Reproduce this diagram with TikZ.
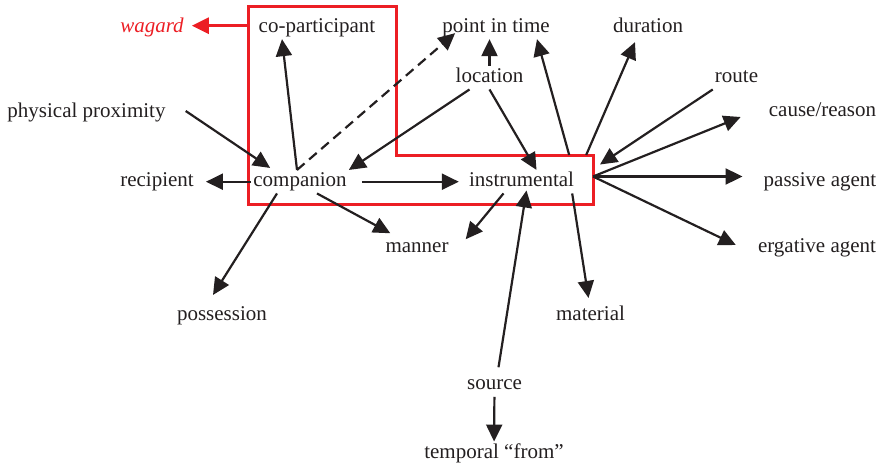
\documentclass[tikz,border=0pt]{standalone}
\usepackage{fontspec}
\setmainfont{Liberation Serif}
\usetikzlibrary{arrows.meta}

\definecolor{boxred}{RGB}{236,30,36}
\definecolor{ink}{RGB}{35,31,32}

\tikzset{
  lbl/.style={inner sep=2pt, text height=14.5pt, text depth=4.6pt, text=ink,
    font=\fontsize{21}{25}\selectfont},
  arr/.style={draw=ink, line width=2.2pt, -{Triangle[length=17pt,width=16pt]}},
  redarr/.style={draw=boxred, line width=3pt, -{Triangle[length=17pt,width=16pt]}}
}

\begin{document}
\begin{tikzpicture}[x=1pt,y=1pt,yscale=-1]
\useasboundingbox (0,0) rectangle (883,469);

% Text Node
\node[lbl, text=boxred, font=\fontsize{21}{25}\selectfont\itshape] (wagard) at (152,27.4) {wagard};
\node[lbl] (copart) at (317,27.4) {co-participant};
\node[lbl] (pit) at (496,27.4) {point in time};
\node[lbl] (dur) at (648,27.4) {duration};
\node[lbl] (loc) at (489.5,77.7) {location};
\node[lbl] (route) at (736.5,77.7) {route};
\node[lbl] (phys) at (86.5,113) {physical proximity};
\node[lbl] (cause) at (822.5,112) {cause/reason};
\node[lbl] (recip) at (157,181.7) {recipient};
\node[lbl] (comp) at (300,181.7) {companion};
\node[lbl] (instr) at (521.5,181.7) {instrumental};
\node[lbl] (passive) at (820,181.7) {passive agent};
\node[lbl] (manner) at (417,248) {manner};
\node[lbl] (ergative) at (817,248) {ergative agent};
\node[lbl] (poss) at (222,315.7) {possession};
\node[lbl] (material) at (590.5,315.7) {material};
\node[lbl] (source) at (494.5,385) {source};
\node[lbl] (temporal) at (494,453.3) {temporal ``from''};

%Shape: red outline
\draw[draw=boxred, line width=3pt, line join=miter] (248,6) -- (396,6) -- (396,155) -- (593,155) -- (593,204) -- (248,204) -- cycle;
\coordinate (hub) at (593,176.5);
\coordinate (rtap) at (248,25.7);

%Straight Lines
\draw[redarr] (rtap) -- ([xshift=6pt]rtap -| wagard.east);
\draw[arr] ([xshift=-3pt]comp.north) -- ([xshift=-35pt]copart.south);
\draw[arr, dash pattern=on 10pt off 6pt] ([xshift=-3pt]comp.north) -- ([xshift=15pt,yshift=-6pt]pit.south west);
\draw[arr] (loc.north) -- (loc.north |- pit.south);
\draw[arr] ([xshift=-20pt]loc.south) -- (comp.north east);
\draw[arr] (loc.south) -- ([xshift=15pt]instr.north);
\draw[arr] ([xshift=-7pt,yshift=-15pt]instr.north east) -- ([xshift=41pt]pit.south);
\draw[arr] ([xshift=10pt,yshift=-15pt]instr.north east) -- ([xshift=-13pt,yshift=3pt]dur.south);
\draw[arr] (route.south west) -- ([xshift=7pt,yshift=-12pt]hub);
\draw[arr] (hub) -- ([xshift=-26pt,yshift=5pt]cause.west);
\draw[arr, shorten >=19pt] (hub) -- (hub -| passive.west);
\draw[arr] (hub) -- ([xshift=-20pt,yshift=-3pt]ergative.west);
\draw[arr] (phys.east) ++(18,-2) -- ([xshift=19pt,yshift=-2pt]comp.north west);
\draw[arr] (comp.west) -- ([xshift=10pt]recip.east);
\draw[arr] ([xshift=13pt]comp.east) -- ([xshift=-8pt]instr.west);
\draw[arr] ([xshift=-23pt]comp.south) -- ([xshift=-9pt,yshift=-9pt]poss.north);
\draw[arr] ([xshift=17pt]comp.south) -- ([xshift=7pt,yshift=-3pt]manner.north west);
\draw[arr] ([xshift=-18pt]instr.south) -- ([xshift=15pt,yshift=3pt]manner.north east);
\draw[arr] ([xshift=4pt,yshift=-6pt]source.north) -- ([xshift=5pt,yshift=-3pt]instr.south);
\draw[arr] ([xshift=-4pt]instr.south east) -- ([xshift=-2pt,yshift=-6pt]material.north);
\draw[arr] (source) -- (temporal);

\end{tikzpicture}
\end{document}
